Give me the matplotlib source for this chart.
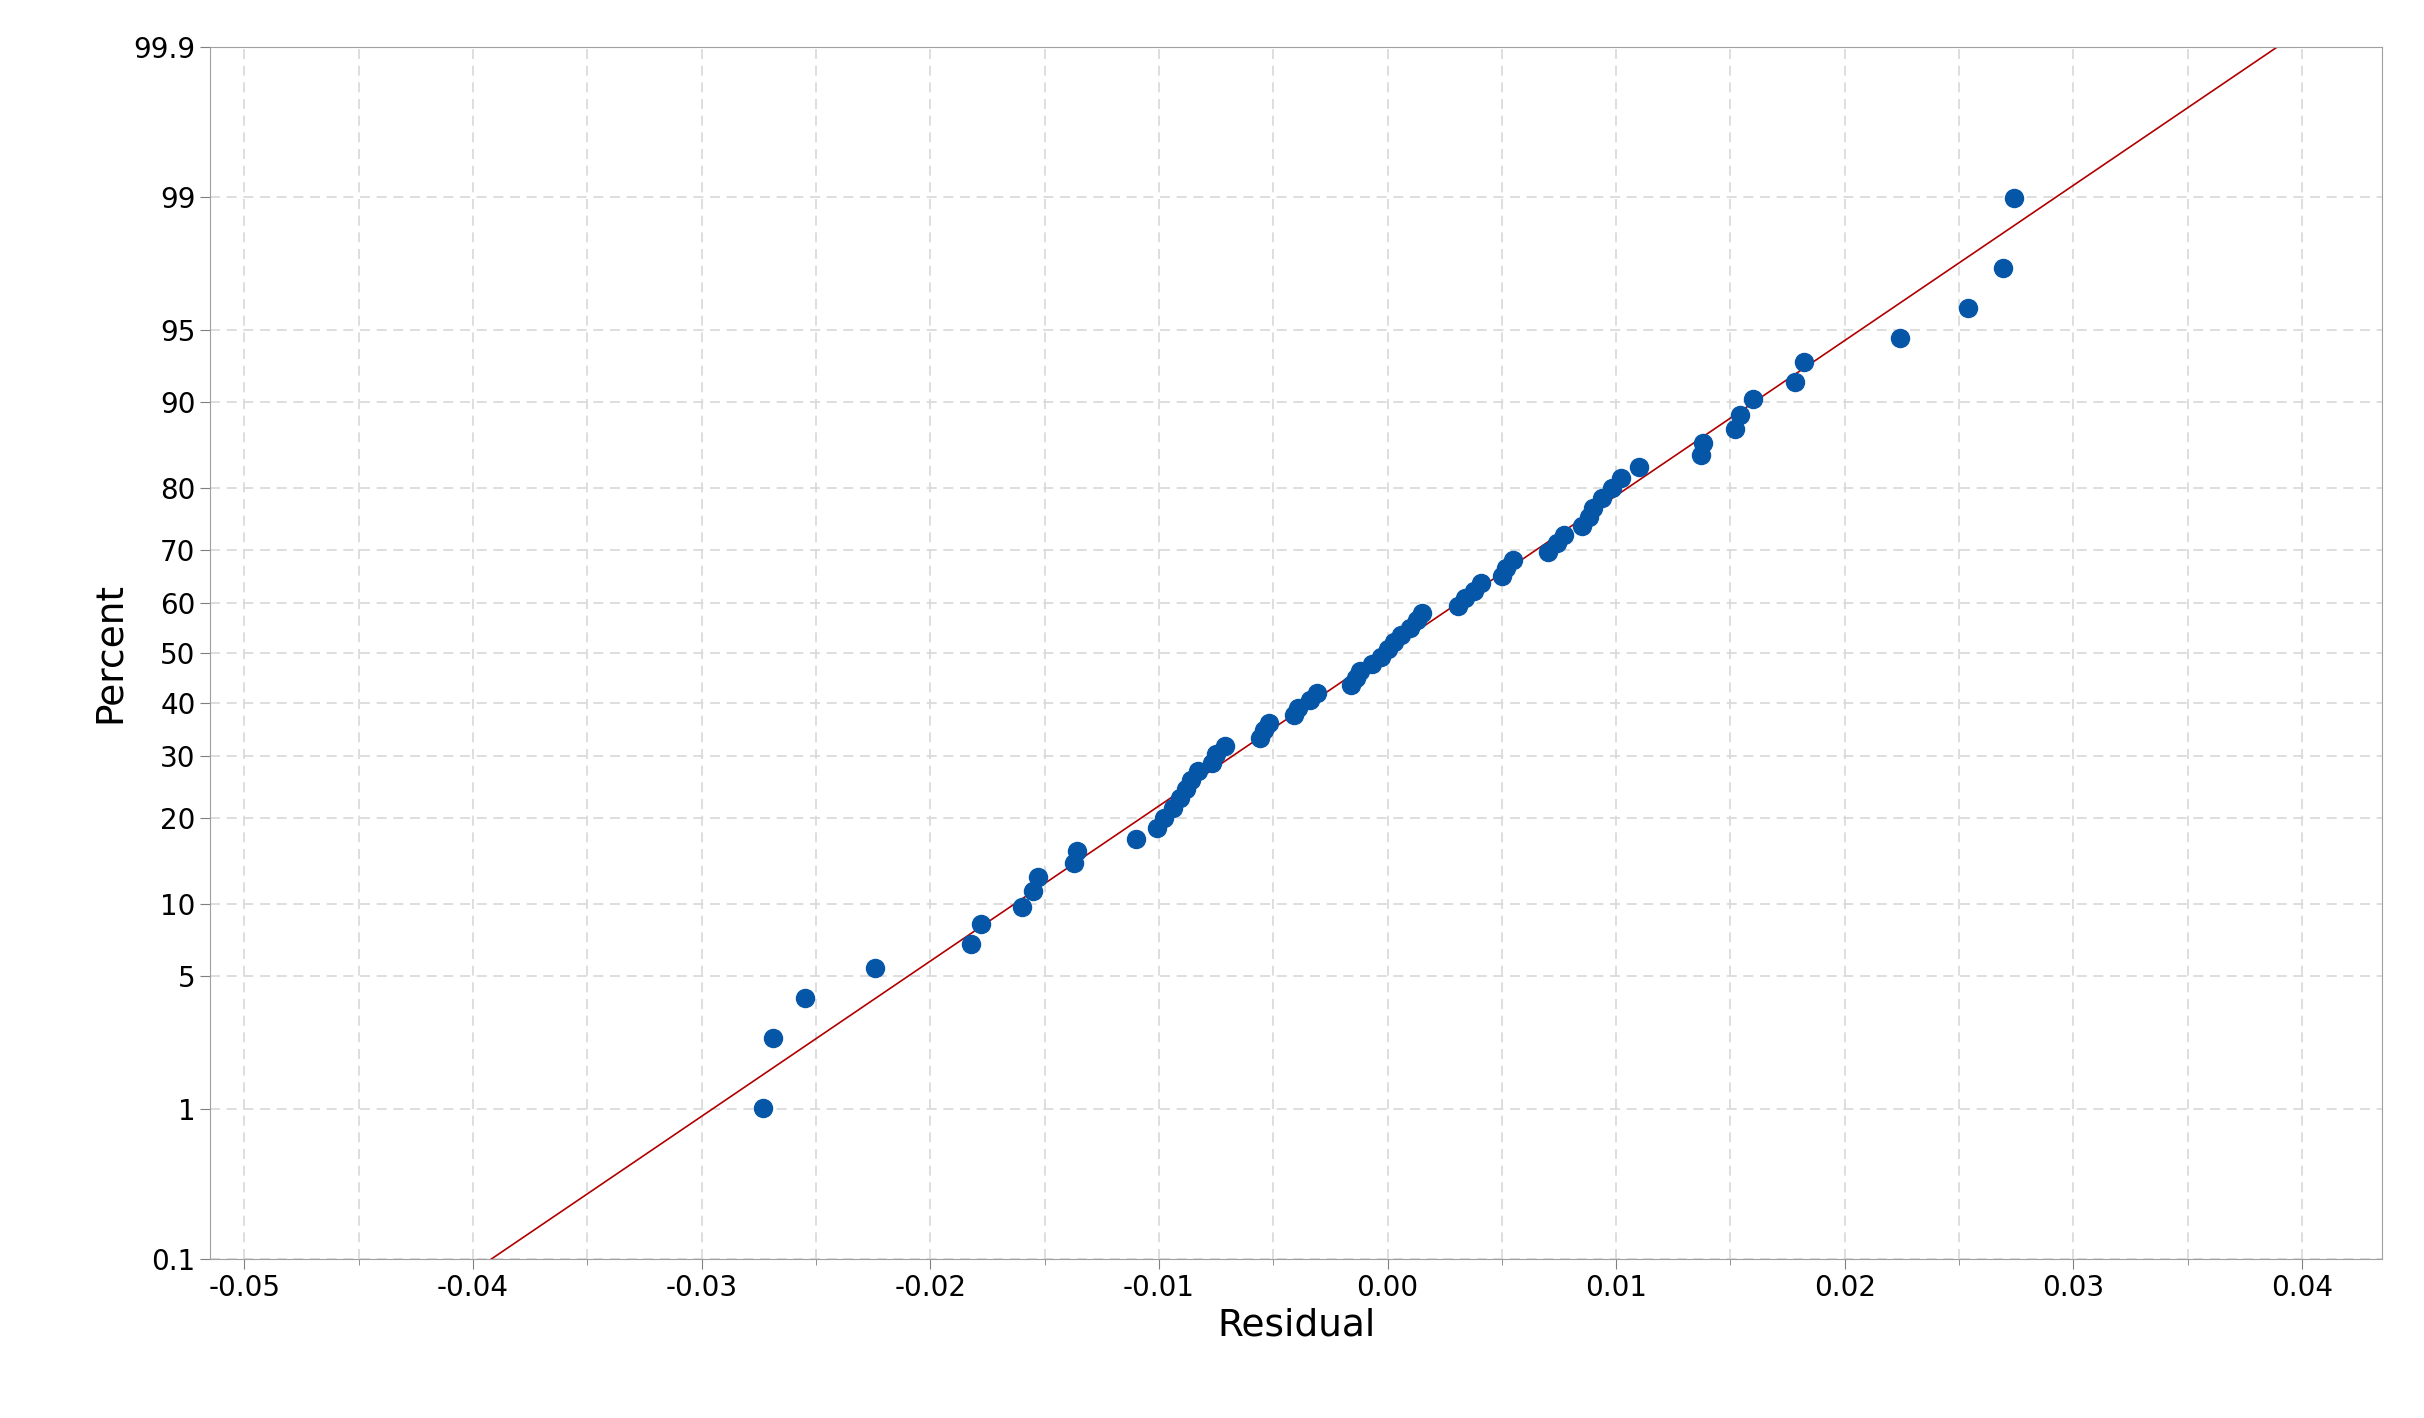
import numpy as np
import math
import matplotlib
matplotlib.use("Agg")
import matplotlib.pyplot as plt

residuals = [-0.0273,-0.0269,-0.0255,-0.0224,-0.0182,-0.0178,-0.016,-0.0155,-0.0153,-0.0137,-0.0136,
             -0.011,-0.0101,-0.0098,-0.0094,-0.0091,-0.0088,-0.0086,-0.0083,-0.0077,-0.0075,-0.0071,
             -0.0056,-0.0054,-0.0052,-0.0041,-0.0039,-0.0034,-0.0031,-0.0016,-0.0014,-0.0012,-0.0007,
             -0.0003,0.0,0.0003,0.0006,0.001,0.0013,0.0015,0.0031,0.0034,0.0038,0.0041,0.005,0.0052,
             0.0055,0.007,0.0074,0.0077,0.0085,0.0088,0.009,0.0094,0.0098,0.0102,0.011,0.0137,0.0138,
             0.0152,0.0154,0.016,0.0178,0.0182,0.0224,0.0254,0.0269,0.0274]
y_ticks = [0.1, 1, 5, 10, 20, 30, 40, 50, 60, 70, 80, 90, 95, 99, 99.9]
y_ticklabels = ["0.1","1","5","10","20","30","40","50","60","70","80","90","95","99","99.9"]
x_ticks = [-0.05,-0.04,-0.03,-0.02,-0.01,0.0,0.01,0.02,0.03,0.04]
x_ticklabels = ["-0.05","-0.04","-0.03","-0.02","-0.01","0.00","0.01","0.02","0.03","0.04"]

_cdf = np.vectorize(lambda z: 0.5 * (1 + math.erf(z / math.sqrt(2))), otypes=[float])

def _ppf_scalar(p):
    if not np.isfinite(p):
        return p
    p = min(max(p, 1e-12), 1 - 1e-12)
    lo, hi = -10.0, 10.0
    for _ in range(80):
        mid = 0.5 * (lo + hi)
        if 0.5 * (1 + math.erf(mid / math.sqrt(2))) < p:
            lo = mid
        else:
            hi = mid
    return 0.5 * (lo + hi)
_ppf = np.vectorize(_ppf_scalar, otypes=[float])

def fwd(pct):
    return _ppf(np.asarray(pct, dtype=float) / 100.0)
def inv(z):
    return _cdf(np.asarray(z, dtype=float)) * 100.0

r = np.sort(np.array(residuals))
n = len(r)
pct = (np.arange(1, n + 1) - 0.3) / (n + 0.4) * 100

mu = r.mean(); sd = r.std(ddof=1)

fig = plt.figure(figsize=(24.24, 14.18), dpi=100)
ax = fig.add_axes([0.0867, 0.112, 0.896, 0.855])
ax.set_yscale('function', functions=(fwd, inv))
ax.set_ylim(0.1, 99.9)
ax.set_xlim(-0.0515, 0.0435)

zline = np.linspace(_ppf_scalar(0.0005), _ppf_scalar(0.9995), 50)
ax.plot(mu + sd * zline, inv(zline), color='#b00000', lw=1.2, zorder=2)
ax.plot(r, pct, 'o', color='#0656a8', ms=13, zorder=3)

ax.set_yticks(y_ticks)
ax.set_yticklabels(y_ticklabels)
ax.yaxis.set_minor_locator(matplotlib.ticker.NullLocator())
ax.set_xticks(x_ticks)
ax.set_xticklabels(x_ticklabels)
ax.set_xticks(np.arange(-0.045, 0.04, 0.01), minor=True)
ax.tick_params(axis='both', labelsize=20, length=7, color='#808080')
ax.tick_params(axis='x', which='minor', length=4, color='#808080')
ax.grid(True, which='both', axis='x', ls=(0, (6, 4)), color='#d8d8d8', lw=1.2)
ax.grid(True, which='major', axis='y', ls=(0, (6, 4)), color='#d8d8d8', lw=1.2)
for s in ax.spines.values():
    s.set_color('#a0a0a0')
ax.set_xlabel('Residual', fontsize=27)
ax.set_ylabel('Percent', fontsize=27)
fig.savefig('out.png', dpi=100)
